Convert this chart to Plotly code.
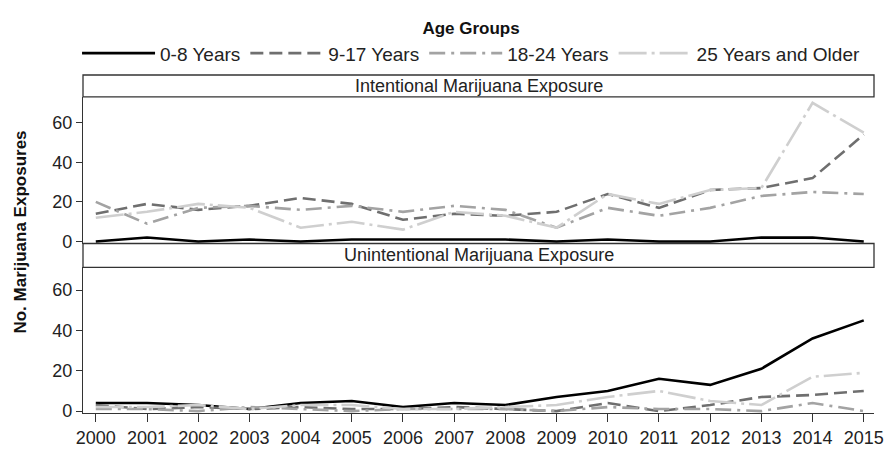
import plotly.graph_objects as go

years = list(range(2000, 2016))
groups = ["0-8 Years", "9-17 Years", "18-24 Years", "25 Years and Older"]

# Intentional exposures
int_0_8 = [0, 2, 0, 1, 0, 1, 1, 1, 1, 0, 1, 0, 0, 2, 2, 0]
int_9_17 = [14, 19, 16, 18, 22, 19, 11, 14, 13, 15, 24, 17, 26, 27, 32, 54]
int_18_24 = [20, 9, 17, 18, 16, 18, 15, 18, 16, 7, 17, 13, 17, 23, 25, 24]
int_25_up = [12, 15, 19, 17, 7, 10, 6, 15, 13, 7, 24, 19, 26, 27, 70, 55]

# Unintentional exposures
unint_0_8 = [4, 4, 3, 1, 4, 5, 2, 4, 3, 7, 10, 16, 13, 21, 36, 45]
unint_9_17 = [3, 1, 2, 1, 2, 1, 1, 2, 1, 0, 4, 0, 3, 7, 8, 10]
unint_18_24 = [1, 1, 0, 2, 1, 0, 1, 1, 1, 0, 2, 1, 1, 0, 4, 0]
unint_25_up = [2, 2, 3, 1, 3, 3, 1, 1, 2, 3, 7, 10, 5, 3, 17, 19]

panel_titles = ["Intentional Marijuana Exposure", "Unintentional Marijuana Exposure"]
y_title = "No. Marijuana Exposures"
legend_title = "Age Groups"

styles = [
    dict(color="#000000", width=2.6, dash="solid"),
    dict(color="#6f6f6f", width=2.6, dash="13px,6px"),
    dict(color="#a3a3a3", width=2.6, dash="16px,6px,3px,6px"),
    dict(color="#cfcfcf", width=2.6, dash="28px,5px,3px,5px"),
]

FONT = "Liberation Sans, Arial, sans-serif"
fig = go.Figure()

top_series = [int_0_8, int_9_17, int_18_24, int_25_up]
bot_series = [unint_0_8, unint_9_17, unint_18_24, unint_25_up]

for i, (name, vals) in enumerate(zip(groups, top_series)):
    fig.add_trace(go.Scatter(x=years, y=vals, mode="lines", name=name,
                             line=styles[i], legendgroup=name, showlegend=True,
                             xaxis="x2", yaxis="y2"))
for i, (name, vals) in enumerate(zip(groups, bot_series)):
    fig.add_trace(go.Scatter(x=years, y=vals, mode="lines", name=name,
                             line=styles[i], legendgroup=name, showlegend=False,
                             xaxis="x", yaxis="y"))

T, B = 66, 39
H = 460 - T - B
W = 896 - 83 - 16
def py(p):
    return (460 - B - p) / H

top_hdr = (66, 89)
top_plot = (89, 243)
bot_hdr = (243, 268)
bot_plot = (268, 421)

axis_common = dict(showgrid=False, zeroline=False, showline=True, linecolor="#333333",
                   linewidth=1.3, ticks="outside", tickcolor="#333333",
                   tickfont=dict(family=FONT, size=18, color="#222222"))

xr = [1999.75, 2015.2]
fig.update_layout(
    width=896, height=460,
    margin=dict(l=83, r=16, t=T, b=B),
    paper_bgcolor="white", plot_bgcolor="white",
    xaxis=dict(domain=[0, 1], range=xr, anchor="y", tickvals=years,
               ticklen=8, **axis_common),
    xaxis2=dict(domain=[0, 1], range=xr, anchor="y2", showticklabels=False,
                showgrid=False, zeroline=False, showline=False, ticks=""),
    yaxis=dict(domain=[py(bot_plot[1]), py(bot_plot[0])], range=[-0.95, 71.3],
               anchor="x", tickvals=[0, 20, 40, 60], ticklen=6, **axis_common),
    yaxis2=dict(domain=[py(top_plot[1]), py(top_plot[0])], range=[-1, 73],
                anchor="x2", tickvals=[0, 20, 40, 60], ticklen=6, **axis_common),
    legend=dict(orientation="h", x=-6 / W, xanchor="left", y=1 + 66 / H, yanchor="top",
                title=dict(text="<b>" + legend_title + "</b>", side="top center",
                           font=dict(family=FONT, size=17, color="#111111")),
                font=dict(family=FONT, size=19, color="#222222"),
                itemwidth=73, traceorder="grouped", tracegroupgap=11),
    showlegend=True,
)

for (h0, h1), title in zip([top_hdr, bot_hdr], panel_titles):
    fig.add_shape(type="rect", xref="paper", yref="paper", x0=0, x1=1,
                  y0=py(h1), y1=py(h0), line=dict(color="#333333", width=1.3),
                  fillcolor="white", layer="below")
    fig.add_annotation(text=title, xref="paper", yref="paper", x=0.5,
                       y=(py(h1) + py(h0)) / 2, showarrow=False, yanchor="middle",
                       font=dict(family=FONT, size=18, color="#222222"))

fig.add_annotation(text="<b>" + y_title + "</b>", xref="paper", yref="paper",
                   x=-63 / W, xanchor="center", y=py(231), yanchor="middle",
                   textangle=-90, showarrow=False,
                   font=dict(family=FONT, size=17, color="#111111"))

fig.write_html("out.html")
